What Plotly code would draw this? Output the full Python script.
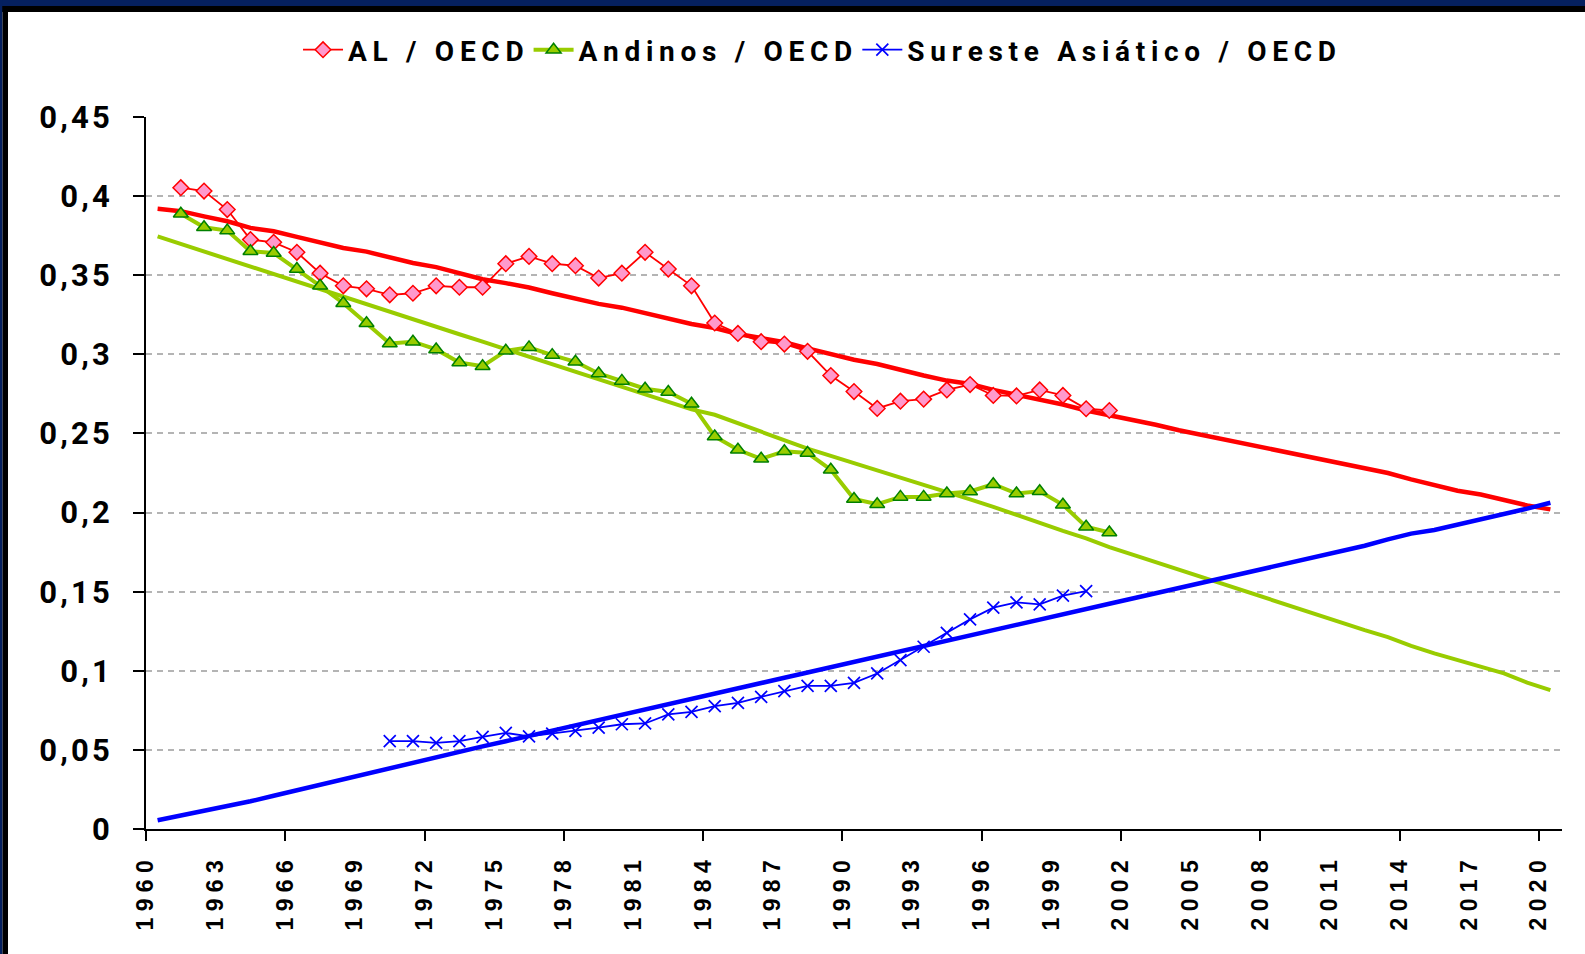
import plotly.graph_objects as go

# ---------------- data ----------------
years_al = list(range(1961, 2002))
al_oecd = [0.4053, 0.4032, 0.3915, 0.3725, 0.3708, 0.3645, 0.3513, 0.3433, 0.3414, 0.3376,
           0.3386, 0.3433, 0.3424, 0.3424, 0.3573, 0.3619, 0.3573, 0.3560, 0.3482, 0.3513,
           0.3645, 0.3539, 0.3433, 0.3198, 0.3132, 0.3080, 0.3065, 0.3019, 0.2866, 0.2765,
           0.2658, 0.2704, 0.2717, 0.2775, 0.2809, 0.2740, 0.2737, 0.2775, 0.2740, 0.2656,
           0.2645]

years_and = list(range(1961, 2002))
andinos_oecd = [0.3888, 0.3803, 0.3782, 0.3651, 0.3640, 0.3539, 0.3433, 0.3323, 0.3196, 0.3069,
                0.3080, 0.3031, 0.2948, 0.2925, 0.3022, 0.3044, 0.2995, 0.2953, 0.2879, 0.2832,
                0.2783, 0.2762, 0.2688, 0.2481, 0.2397, 0.2340, 0.2387, 0.2376, 0.2271, 0.2086,
                0.2053, 0.2099, 0.2099, 0.2120, 0.2133, 0.2179, 0.2120, 0.2135, 0.2049, 0.1910,
                0.1874]

years_sea = list(range(1970, 2001))
sureste_oecd = [0.0555, 0.0555, 0.0544, 0.0555, 0.0582, 0.0607, 0.0586, 0.0603, 0.0620, 0.0641,
                0.0662, 0.0667, 0.0724, 0.0740, 0.0776, 0.0797, 0.0835, 0.0871, 0.0905, 0.0905,
                0.0924, 0.0983, 0.1067, 0.1152, 0.1240, 0.1325, 0.1399, 0.1432, 0.1420, 0.1475,
                0.1504]

years_trend = list(range(1960, 2021))
trend_al = [0.3920, 0.3905, 0.3872, 0.3841, 0.3799, 0.3778, 0.3742, 0.3704, 0.3672, 0.3649,
            0.3613, 0.3577, 0.3551, 0.3513, 0.3475, 0.3450, 0.3422, 0.3386, 0.3352, 0.3319,
            0.3295, 0.3259, 0.3223, 0.3192, 0.3166, 0.3128, 0.3103, 0.3076, 0.3038, 0.3002,
            0.2966, 0.2939, 0.2901, 0.2866, 0.2834, 0.2813, 0.2775, 0.2744, 0.2719, 0.2683,
            0.2645, 0.2614, 0.2590, 0.2555, 0.2520, 0.2490, 0.2462, 0.2430, 0.2398, 0.2370,
            0.2342, 0.2310, 0.2275, 0.2250, 0.2210, 0.2175, 0.2138, 0.2114, 0.2080, 0.2045,
            0.2020]
trend_and = [0.3745, 0.3697, 0.3650, 0.3602, 0.3555, 0.3507, 0.3460, 0.3412, 0.3365, 0.3317,
             0.3270, 0.3222, 0.3175, 0.3127, 0.3080, 0.3032, 0.2985, 0.2937, 0.2890, 0.2842,
             0.2795, 0.2747, 0.2700, 0.2652, 0.2618, 0.2565, 0.2512, 0.2458, 0.2404, 0.2358,
             0.2313, 0.2267, 0.2220, 0.2175, 0.2128, 0.2083, 0.2036, 0.1984, 0.1931, 0.1884,
             0.1837, 0.1782, 0.1734, 0.1686, 0.1638, 0.1590, 0.1542, 0.1494, 0.1446, 0.1398,
             0.1350, 0.1302, 0.1257, 0.1213, 0.1158, 0.1110, 0.1068, 0.1026, 0.0984, 0.0925,
             0.0878]
trend_sea = [0.0055, 0.0085, 0.0108, 0.0140, 0.0175, 0.0210, 0.0245, 0.0280, 0.0318, 0.0352,
             0.0387, 0.0420, 0.0455, 0.0489, 0.0522, 0.0555, 0.0589, 0.0622, 0.0655, 0.0689,
             0.0722, 0.0756, 0.0789, 0.0822, 0.0856, 0.0889, 0.0923, 0.0956, 0.0989, 0.1023,
             0.1056, 0.1090, 0.1123, 0.1157, 0.1190, 0.1223, 0.1257, 0.1290, 0.1323, 0.1357,
             0.1390, 0.1424, 0.1457, 0.1490, 0.1524, 0.1557, 0.1591, 0.1624, 0.1657, 0.1691,
             0.1724, 0.1758, 0.1790, 0.1830, 0.1867, 0.1890, 0.1922, 0.1955, 0.1990, 0.2025,
             0.2062]

series_names = ["AL / OECD", "Andinos / OECD", "Sureste Asiático / OECD"]
x_label_years = list(range(1960, 2021, 3))
x_tick_years = list(range(1960, 2021, 6))
y_ticks = [0, 0.05, 0.1, 0.15, 0.2, 0.25, 0.3, 0.35, 0.4, 0.45]
y_tick_labels = ["0", "0,05", "0,1", "0,15", "0,2", "0,25", "0,3", "0,35", "0,4", "0,45"]

# ---------------- helpers ----------------
NB = "\u00a0"
THIN = "\u2009"
HAIR = "\u200a"


def spaced(s, sep):
    return sep.join(NB if c == " " else c for c in s)


def centered(years):
    # categories are drawn in the middle of each one-year slot
    return [y + 0.5 for y in years]


W, H = 1585, 954
ML, MR, MT, MB = 146, 23, 117, 125
PW, PH = W - ML - MR, H - MT - MB


def px_x(px):
    return (px - ML) / PW


def px_y(py):
    return 1 - (py - MT) / PH


FONT = "Roboto, Liberation Sans, Arial, sans-serif"
SANS = "Liberation Sans, Arial, sans-serif"

fig = go.Figure()

# trend lines
fig.add_trace(go.Scatter(x=centered(years_trend), y=trend_al, mode="lines",
                         line=dict(color="#ff0000", width=4.5), showlegend=False, hoverinfo="skip"))
fig.add_trace(go.Scatter(x=centered(years_trend), y=trend_and, mode="lines",
                         line=dict(color="#99cc00", width=4), showlegend=False, hoverinfo="skip"))

# data series
fig.add_trace(go.Scatter(x=centered(years_al), y=al_oecd, mode="lines+markers",
                         name="<b>" + spaced(series_names[0], THIN) + "</b>",
                         line=dict(color="#ff0000", width=1.8),
                         marker=dict(symbol="diamond", size=12, color="#ff99cc",
                                     line=dict(color="#ff0000", width=1.5))))
fig.add_trace(go.Scatter(x=centered(years_and), y=andinos_oecd, mode="lines+markers",
                         name="<b>" + spaced(series_names[1], THIN) + "</b>",
                         line=dict(color="#99cc00", width=4),
                         marker=dict(symbol="triangle-up", size=13, color="#99cc00",
                                     line=dict(color="#008000", width=1.5))))
fig.add_trace(go.Scatter(x=centered(years_sea), y=sureste_oecd, mode="lines+markers",
                         name="<b>" + spaced(series_names[2], THIN) + "</b>",
                         line=dict(color="#0000ff", width=1.8),
                         marker=dict(symbol="x-thin", size=12, color="#0000ff",
                                     line=dict(color="#0000ff", width=1.7))))
# blue trend lives on the overlay axis that carries the 6-year tick marks
fig.add_trace(go.Scatter(x=centered(years_trend), y=trend_sea, mode="lines", xaxis="x2",
                         line=dict(color="#0000ff", width=4.5), showlegend=False, hoverinfo="skip"))

# frame decoration (navy band + black edge)
navy, black = "#05205f", "#000000"
shapes = [
    dict(type="rect", xref="paper", yref="paper", x0=px_x(0), x1=px_x(W), y0=px_y(6), y1=px_y(0),
         fillcolor=navy, line_width=0, layer="below"),
    dict(type="rect", xref="paper", yref="paper", x0=px_x(0), x1=px_x(W), y0=px_y(12), y1=px_y(6),
         fillcolor=black, line_width=0, layer="below"),
    dict(type="rect", xref="paper", yref="paper", x0=px_x(0), x1=px_x(2.5), y0=px_y(H), y1=px_y(0),
         fillcolor=navy, line_width=0, layer="below"),
    dict(type="rect", xref="paper", yref="paper", x0=px_x(2.5), x1=px_x(8), y0=px_y(H), y1=px_y(6),
         fillcolor=black, line_width=0, layer="below"),
]

fig.update_layout(
    width=W, height=H,
    margin=dict(l=ML, r=MR, t=MT, b=MB, pad=0),
    paper_bgcolor="white", plot_bgcolor="white",
    shapes=shapes,
    showlegend=True,
    legend=dict(orientation="h", x=0.476, xanchor="center", y=px_y(50), yanchor="middle",
                font=dict(family=FONT, size=28, color="black"),
                bgcolor="rgba(0,0,0,0)", itemwidth=40, tracegroupgap=0),
    xaxis=dict(range=[1960, 2021], tickmode="array", tickvals=x_label_years,
               ticktext=["<b>" + spaced(str(y), NB) + "</b>" for y in x_label_years],
               tickangle=-90, ticks="", ticklabelstandoff=20,
               tickfont=dict(family=SANS, size=23, color="black"),
               showgrid=False, zeroline=False,
               showline=True, linecolor="black", linewidth=2),
    xaxis2=dict(range=[1960, 2021], overlaying="x", anchor="y", side="bottom",
                tickmode="array", tickvals=x_tick_years, showticklabels=False,
                ticks="outside", ticklen=11, tickwidth=2, tickcolor="black",
                showgrid=False, zeroline=False, showline=False),
    yaxis=dict(range=[0, 0.45], tickmode="array", tickvals=y_ticks,
               ticktext=["<b>" + spaced(t, HAIR) + "</b>" for t in y_tick_labels],
               ticks="outside", ticklen=11, tickwidth=2, tickcolor="black",
               ticklabelstandoff=17,
               tickfont=dict(family=FONT, size=31, color="black"),
               showgrid=True, gridcolor="#b4b4b4", gridwidth=2, griddash="6px,5px",
               zeroline=False, showline=True, linecolor="black", linewidth=2),
)

fig.write_html(
    "out.html",
    config={"displayModeBar": False},
    post_script=("document.documentElement.style.overflow='hidden';"
                 "document.body.style.margin='0';document.body.style.overflow='hidden';"),
)
